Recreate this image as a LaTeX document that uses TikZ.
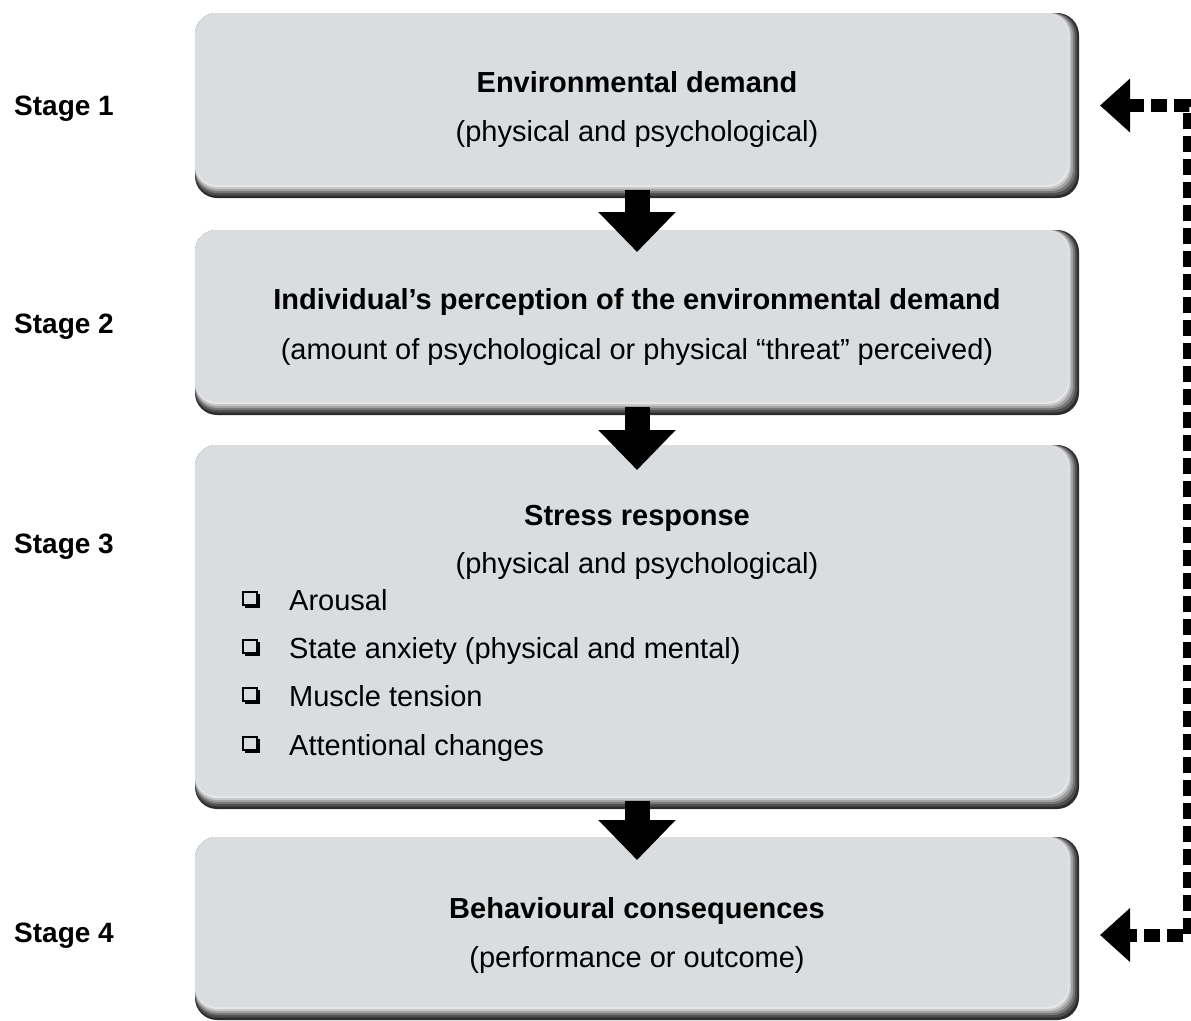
\documentclass[tikz,border=0pt]{standalone}
\usepackage{fontspec}
\setmainfont{Liberation Sans}
\usetikzlibrary{arrows.meta,calc}

\definecolor{boxfill}{HTML}{DADDE0}
\definecolor{bevA}{HTML}{2C2C2C}
\definecolor{bevB}{HTML}{4E4E4E}
\definecolor{bevC}{HTML}{767676}
\definecolor{bevD}{HTML}{A0A0A0}
\definecolor{bevE}{HTML}{C6C6C6}
\definecolor{bevF}{HTML}{E6E7E9}

\tikzset{
  panel/.style={rectangle, minimum width=884pt, inner sep=0pt, outer sep=0pt},
  title/.style={font=\fontsize{29}{34}\selectfont\bfseries, inner sep=0pt, anchor=base},
  subtitle/.style={font=\fontsize{29}{34}\selectfont, inner sep=0pt, anchor=base},
  stagelbl/.style={font=\fontsize{28}{33}\selectfont\bfseries, anchor=base west, inner sep=0pt},
  item/.style={font=\fontsize{29}{34}\selectfont, anchor=base west, inner sep=0pt},
  flow/.style={line width=25pt, -{Triangle[width=75pt,length=40pt]}},
  feedback/.style={line width=13pt, dash pattern=on 16pt off 7pt, line join=miter,
    {Triangle[width=52pt,length=30pt]}-{Triangle[width=52pt,length=30pt]}},
  tickbox/.pic={
    \draw[line width=1.3pt] (0,0) rectangle (14,13);
    \fill (2,13) rectangle (17,16);
    \fill (14,2) rectangle (17,16);
  },
}

% bevelled panel: dark bottom/right edge built up from stacked rounded fills
\newcommand\panelbevel[1]{%
  \foreach \dx/\dy/\c in {0/0/bevA, 2/2.5/bevB, 4/5/bevC, 6/7/bevD, 8/9/bevE, 9.5/11/bevF, 11/13/boxfill}{
    \fill[\c, rounded corners=22pt] (#1.north west) rectangle ($(#1.south east)+(-\dx,-\dy)$);
  }%
}

\begin{document}
\begin{tikzpicture}[x=1pt, y=-1pt]
\fill[white] (0,0) rectangle (1191,1020);
\useasboundingbox (0,0) rectangle (1191,1020);

% panels
\node[panel, minimum height=185pt] (b1) at (637,105.5) {};
\node[panel, minimum height=185pt] (b2) at (637,322.5) {};
\node[panel, minimum height=364pt] (b3) at (637,627) {};
\node[panel, minimum height=183pt] (b4) at (637,928.5) {};
\panelbevel{b1}
\panelbevel{b2}
\panelbevel{b3}
\panelbevel{b4}

% stage labels
\node[stagelbl] (st1) at (14,115) {Stage 1};
\node[stagelbl] (st2) at (14,333) {Stage 2};
\node[stagelbl] (st3) at (14,553) {Stage 3};
\node[stagelbl] (st4) at (14,942) {Stage 4};

% panel texts
\node[title] (t1) at (637,92.5) {Environmental demand};
\node[subtitle] (s1) at (637,141.5) {(physical and psychological)};
\node[title] (t2) at (637,309.5) {Individual’s perception of the environmental demand};
\node[subtitle] (s2) at (637,359.5) {(amount of psychological or physical “threat” perceived)};
\node[title] (t3) at (637,525.5) {Stress response};
\node[subtitle] (s3) at (637,573.5) {(physical and psychological)};
\node[title] (t4) at (637,918.5) {Behavioural consequences};
\node[subtitle] (s4) at (637,967.5) {(performance or outcome)};

% checklist inside the stress response panel
\node[item] (i1) at (289,610.5) {Arousal};
\node[item] (i2) at (289,658.5) {State anxiety (physical and mental)};
\node[item] (i3) at (289,706.5) {Muscle tension};
\node[item] (i4) at (289,755.5) {Attentional changes};
\foreach \n in {i1,i2,i3,i4}{
  \pic at ($(\n.base west)+(-46,-18.5)$) {tickbox};
}

% flow between stages
\draw[flow] ($(b1.south)+(0,-8)$) -- ($(b2.north)+(0,22)$);
\draw[flow] ($(b2.south)+(0,-8)$) -- ($(b3.north)+(0,25)$);
\draw[flow] ($(b3.south)+(0,-8)$) -- ($(b4.north)+(0,23)$);

% feedback loop from consequences back to the demand
\coordinate (fbtop) at ($(b1.east)+(21,0)$);
\coordinate (fbbot) at ($(b4.east)+(21,6.5)$);
\coordinate (rail) at (1189.5,0);
\draw[feedback] (fbtop) -- (fbtop -| rail) -- (fbbot -| rail) -- (fbbot);
\end{tikzpicture}
\end{document}
